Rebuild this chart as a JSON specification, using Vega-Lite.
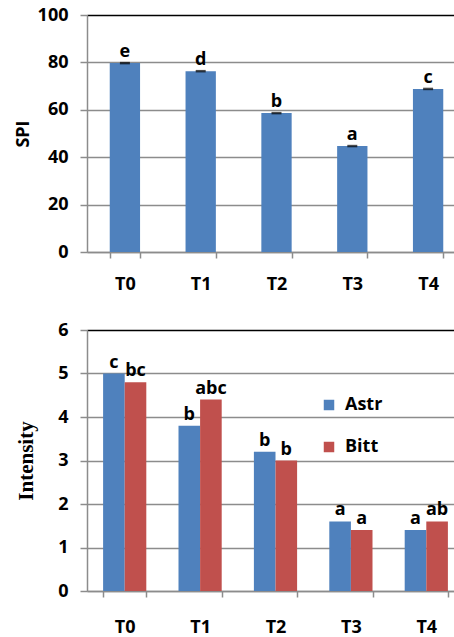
{
  "$schema": "https://vega.github.io/schema/vega-lite/v6.json",
  "padding": {"top": 6, "left": 14, "right": 0, "bottom": 0},
  "spacing": 28,
  "config": {
    "view": {"stroke": null},
    "font": "Open Sans",
    "axis": {
      "labelFont": "Open Sans",
      "labelFontWeight": "bold",
      "labelFontSize": 18,
      "labelColor": "black",
      "domainColor": "#8c8c8c",
      "domainWidth": 1.5,
      "tickColor": "#8c8c8c",
      "tickWidth": 1.5,
      "gridColor": "#8c8c8c",
      "gridWidth": 1.5,
      "titleColor": "black"
    },
    "axisX": {"tickBand": "extent", "tickSize": 6, "labelPadding": 17, "labelAngle": 0, "grid": false, "title": null},
    "axisY": {"tickSize": 7, "labelPadding": 12, "grid": true}
  },
  "vconcat": [
    {
      "width": 379,
      "height": 237,
      "data": {"values": [
        {"T": "T0", "SPI": 79.7, "letter": "e"},
        {"T": "T1", "SPI": 76.3, "letter": "d"},
        {"T": "T2", "SPI": 58.6, "letter": "b"},
        {"T": "T3", "SPI": 44.7, "letter": "a"},
        {"T": "T4", "SPI": 68.8, "letter": "c"}
      ]},
      "encoding": {
        "x": {"field": "T", "type": "nominal", "scale": {"paddingInner": 0.6, "paddingOuter": 0.3}, "axis": {}},
        "y": {"field": "SPI", "type": "quantitative", "scale": {"domain": [0, 100]},
          "axis": {"values": [0, 20, 40, 60, 80, 100], "title": "SPI", "titleFont": "Open Sans", "titleFontSize": 18, "titleFontWeight": "bold", "titlePadding": 5,
            "gridColor": {"condition": {"test": "datum.value === 100", "value": "black"}, "value": "#8c8c8c"}}}
      },
      "layer": [
        {"mark": {"type": "bar", "color": "#4F81BD"}},
        {"mark": {"type": "tick", "color": "black", "thickness": 2.5, "size": 10}},
        {"mark": {"type": "text", "dy": -6, "baseline": "alphabetic", "fontSize": 18, "fontWeight": "bold", "color": "black"},
          "encoding": {"text": {"field": "letter"}}}
      ]
    },
    {
      "width": 377,
      "height": 261,
      "data": {"values": [
        {"T": "T0", "group": "Astr", "value": 5.0, "letter": "c"},
        {"T": "T0", "group": "Bitt", "value": 4.8, "letter": "bc"},
        {"T": "T1", "group": "Astr", "value": 3.8, "letter": "b"},
        {"T": "T1", "group": "Bitt", "value": 4.4, "letter": "abc"},
        {"T": "T2", "group": "Astr", "value": 3.2, "letter": "b"},
        {"T": "T2", "group": "Bitt", "value": 3.0, "letter": "b"},
        {"T": "T3", "group": "Astr", "value": 1.6, "letter": "a"},
        {"T": "T3", "group": "Bitt", "value": 1.4, "letter": "a"},
        {"T": "T4", "group": "Astr", "value": 1.4, "letter": "a"},
        {"T": "T4", "group": "Bitt", "value": 1.6, "letter": "ab"}
      ]},
      "encoding": {
        "x": {"field": "T", "type": "nominal", "scale": {"paddingInner": 0.427, "paddingOuter": 0.2135}, "axis": {"labelPadding": 21}},
        "xOffset": {"field": "group", "type": "nominal", "scale": {"paddingInner": 0, "paddingOuter": 0}},
        "y": {"field": "value", "type": "quantitative", "scale": {"domain": [0, 6]},
          "axis": {"values": [0, 1, 2, 3, 4, 5, 6], "title": "Intensity", "titleFont": "Liberation Serif", "titleFontSize": 21, "titleFontWeight": "bold", "titlePadding": 21,
            "gridColor": {"condition": {"test": "datum.value === 6", "value": "black"}, "value": "#8c8c8c"}}}
      },
      "layer": [
        {"mark": {"type": "bar"},
          "encoding": {"color": {"field": "group", "type": "nominal",
            "scale": {"domain": ["Astr", "Bitt"], "range": ["#4F81BD", "#C0504D"]},
            "legend": {"title": null, "orient": "none", "legendX": 233, "legendY": 381, "padding": 0,
              "symbolType": "square", "symbolSize": 110, "symbolStrokeWidth": 0, "symbolOpacity": 1,
              "labelFont": "Open Sans", "labelFontSize": 18, "labelFontWeight": "bold", "labelColor": "black",
              "labelOffset": 7, "rowPadding": 24}}}},
        {"mark": {"type": "text", "dy": -6, "baseline": "alphabetic", "fontSize": 18, "fontWeight": "bold", "color": "black"},
          "encoding": {"text": {"field": "letter"}}}
      ]
    }
  ]
}
